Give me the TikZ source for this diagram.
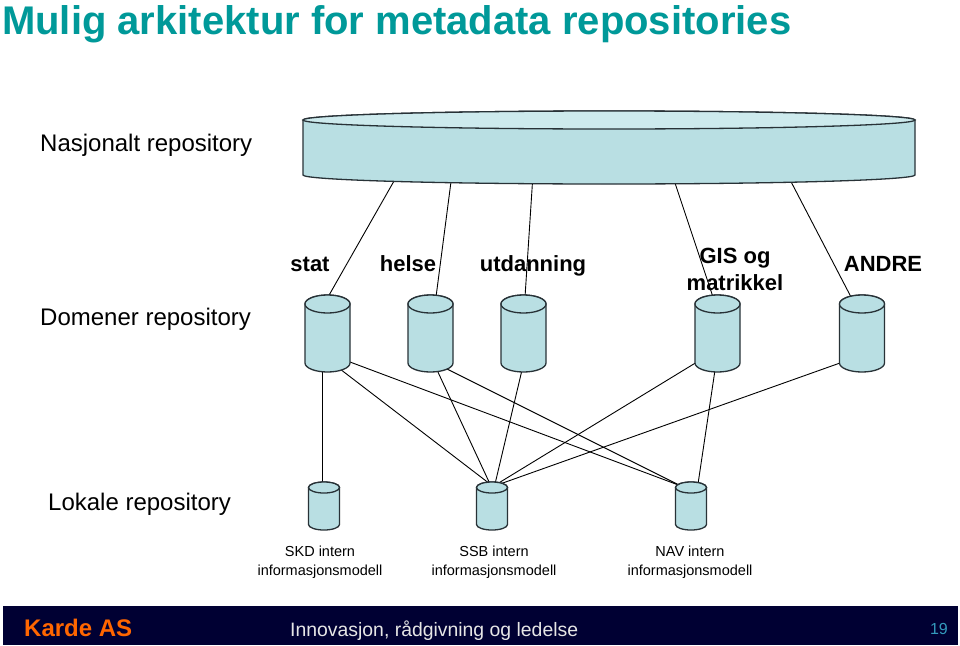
\documentclass[tikz,border=0pt]{standalone}
\usepackage{fontspec}
\setmainfont{Liberation Sans}
\usetikzlibrary{backgrounds}
\definecolor{titleteal}{RGB}{0,153,153}
\definecolor{cylbody}{RGB}{185,223,227}
\definecolor{cyltop}{RGB}{205,234,237}
\definecolor{cyledge}{RGB}{40,50,55}
\definecolor{footbg}{RGB}{0,0,51}
\definecolor{kardeorange}{RGB}{255,102,0}
\definecolor{pagenum}{RGB}{51,153,187}
\definecolor{foottext}{RGB}{230,230,230}
\tikzset{
  cylnode/.style={rectangle, inner sep=0pt, outer sep=0pt},
  cylline/.style={draw=cyledge, line width=1.3pt},
  link/.style={draw=black, line width=0.9pt},
  lefttxt/.style={font=\fontsize{24}{28}\selectfont, anchor=base west, inner sep=0pt},
  domtxt/.style={font=\bfseries\fontsize{22}{26}\selectfont, anchor=base, inner sep=0pt},
  loctxt/.style={font=\fontsize{14.5}{19}\selectfont, anchor=base, inner sep=0pt},
}
\newcommand\mkcyl[5]{\node[cylnode, minimum width=#4pt, minimum height=#5pt] (#1) at (#2,#3) {};}
\newcommand\drawcyl[4]{%
  \path[cylline, fill=cylbody] ([yshift=-#3pt]#1.north west) -- ([yshift=#3pt]#1.south west)
    arc[start angle=180, end angle=360, x radius=#2pt, y radius=#3pt]
    -- ([yshift=-#3pt]#1.north east)
    arc[start angle=0, end angle=180, x radius=#2pt, y radius=#3pt] -- cycle;
  \path[cylline, fill=#4] ([yshift=-#3pt]#1.north) ellipse[x radius=#2pt, y radius=#3pt];
}
\begin{document}
\begin{tikzpicture}[x=1pt, y=-1pt]
\useasboundingbox (0,0) rectangle (960,645);

% title
\node[anchor=base west, text=titleteal, font=\bfseries\fontsize{40}{44}\selectfont, inner sep=0pt] (title) at (2,34) {Mulig arkitektur for metadata repositories};

% left labels
\node[lefttxt] (lnas) at (40,151) {Nasjonalt repository};
\node[lefttxt] (ldom) at (40,325) {Domener repository};
\node[lefttxt] (llok) at (48,510) {Lokale repository};

% cylinder placeholders
\mkcyl{top}{609}{147.5}{612}{73}
\mkcyl{stat}{327.5}{333.5}{45}{77}
\mkcyl{helse}{430.5}{333.5}{45}{77}
\mkcyl{utd}{523.5}{333.5}{45}{77}
\mkcyl{gis}{717.5}{333.5}{45}{77}
\mkcyl{andre}{862}{333.5}{45}{77}
\mkcyl{skd}{324}{506}{31}{48}
\mkcyl{ssb}{492}{506}{31}{48}
\mkcyl{nav}{691}{506}{31}{48}

% connectors (behind cylinders)
\begin{pgfonlayer}{background}
\fill[white] (0,0) rectangle (960,645);
\draw[link] ([shift={(-211,-10)}]top.south) -- ([shift={(0.5,2)}]stat.north);
\draw[link] ([shift={(-157,-10)}]top.south) -- ([shift={(5.5,2)}]helse.north);
\draw[link] ([shift={(-76,-10)}]top.south) -- ([shift={(1.5,2)}]utd.north);
\draw[link] ([shift={(63,-10)}]top.south) -- ([shift={(-4.5,2)}]gis.north);
\draw[link] ([shift={(178,-10)}]top.south) -- ([shift={(-11,2)}]andre.north);

\draw[link] ([shift={(-5.5,-5)}]stat.south) -- ([shift={(-2,2)}]skd.north);
\draw[link] ([shift={(12.5,-3)}]stat.south) -- ([shift={(-2,2)}]ssb.north);
\draw[link] ([shift={(22.5,-10)}]stat.south) -- ([shift={(-10,4)}]nav.north);
\draw[link] ([shift={(6.5,-2)}]helse.south) -- ([shift={(-2,2)}]ssb.north);
\draw[link] ([shift={(16.5,-3)}]helse.south) -- ([shift={(-10,4)}]nav.north);
\draw[link] ([shift={(-1.5,-2)}]utd.south) -- ([shift={(3,2)}]ssb.north);
\draw[link] ([shift={(-20.5,-10)}]gis.south) -- ([shift={(5,2)}]ssb.north);
\draw[link] ([shift={(-2.5,-2)}]gis.south) -- ([shift={(7,2)}]nav.north);
\draw[link] ([shift={(-22,-9)}]andre.south) -- ([shift={(8,2)}]ssb.north);
\end{pgfonlayer}

% cylinders
\drawcyl{top}{306}{9}{cyltop}
\drawcyl{stat}{22.5}{9}{cylbody}
\drawcyl{helse}{22.5}{9}{cylbody}
\drawcyl{utd}{22.5}{9}{cylbody}
\drawcyl{gis}{22.5}{9}{cylbody}
\drawcyl{andre}{22.5}{9}{cylbody}
\drawcyl{skd}{15.5}{5.5}{cylbody}
\drawcyl{ssb}{15.5}{5.5}{cylbody}
\drawcyl{nav}{15.5}{5.5}{cylbody}

% domain labels
\node[domtxt] (tstat) at (310,271) {stat};
\node[domtxt] (thelse) at (408,271) {helse};
\node[domtxt] (tutd) at (533,271) {utdanning};
\node[domtxt] (tgis1) at (735,263) {GIS og};
\node[domtxt] (tgis2) at (735,290) {matrikkel};
\node[domtxt] (tandre) at (883,271) {ANDRE};

% local labels
\node[loctxt] (tskd1) at (320,556) {SKD intern};
\node[loctxt] (tskd2) at (320,575) {informasjonsmodell};
\node[loctxt] (tssb1) at (494,556) {SSB intern};
\node[loctxt] (tssb2) at (494,575) {informasjonsmodell};
\node[loctxt] (tnav1) at (690,556) {NAV intern};
\node[loctxt] (tnav2) at (690,575) {informasjonsmodell};

% footer
\fill[footbg] (3,606) rectangle (958,645);
\node[anchor=base west, text=kardeorange, font=\bfseries\fontsize{24}{28}\selectfont, inner sep=0pt] (karde) at (24,636) {Karde AS};
\node[anchor=base west, text=foottext, font=\fontsize{19.4}{23}\selectfont, inner sep=0pt] (slogan) at (290,636) {Innovasjon, rådgivning og ledelse};
\node[anchor=base east, text=pagenum, font=\fontsize{16}{19}\selectfont, inner sep=0pt] (pnum) at (948,634) {19};
\end{tikzpicture}
\end{document}
